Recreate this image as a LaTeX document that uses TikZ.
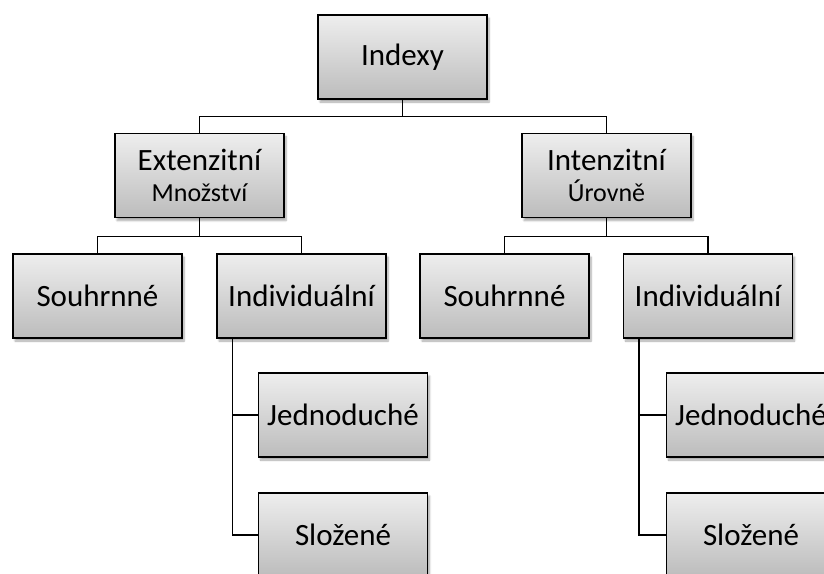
\documentclass[tikz,border=0pt]{standalone}
\usepackage{fontspec}
\setmainfont{Carlito}
\usetikzlibrary{calc,shadows.blur}
\definecolor{boxtop}{RGB}{238,238,238}
\definecolor{boxbot}{RGB}{188,188,188}
\tikzset{
  box/.style={rectangle, draw=black, line width=1.3pt, minimum width=169pt, minimum height=84pt,
    top color=boxtop, bottom color=boxbot, align=center, inner sep=0pt,
    font=\fontsize{31}{33}\selectfont,
    blur shadow={shadow xshift=2pt, shadow yshift=-3pt, shadow blur steps=6, shadow opacity=35}},
  conn/.style={line width=1.3pt, draw=black}
}
\newcommand{\subline}[1]{{\fontsize{26}{28}\selectfont #1}}
\begin{document}
\begin{tikzpicture}[x=1pt,y=1pt]
	%%%%% FRAME %%%%%
	\useasboundingbox (0,0) rectangle (824,-573);
	\def\rowone{-57}
	\def\rowtwo{-175.5}
	\def\rowthree{-296}
	\def\rowfour{-415}
	\def\rowfive{-535}
	\def\stem{16}

	%%%%% BOXES %%%%%
	\node[box] (indexy) at (402.5,\rowone) {Indexy};

	\node[box] (ext) at (199.5,\rowtwo) {Extenzitní\\[-2pt]\subline{Množství}};
	\node[box] (int) at (606.5,\rowtwo) {Intenzitní\\[-2pt]\subline{Úrovně}};

	\node[box] (souhrnL) at (97.5,\rowthree) {Souhrnné};
	\node[box] (indivL) at (301.5,\rowthree) {Individuální};
	\node[box] (souhrnR) at (504.5,\rowthree) {Souhrnné};
	\node[box] (indivR) at (708,\rowthree) {Individuální};

	\node[box] (jednoL) at (343,\rowfour) {Jednoduché};
	\node[box] (slozL) at (343,\rowfive) {Složené};
	\node[box] (jednoR) at (751,\rowfour) {Jednoduché};
	\node[box] (slozR) at (751,\rowfive) {Složené};

	%%%%% CONNECTORS %%%%%
	\draw[conn] (indexy.south) -- ++(0,-17) coordinate (busA);
	\draw[conn] (ext.north) |- (busA) -| (int.north);

	\draw[conn] (ext.south) -- ++(0,-18) coordinate (busL);
	\draw[conn] (souhrnL.north) |- (busL) -| (indivL.north);
	\draw[conn] (int.south) -- ++(0,-18) coordinate (busR);
	\draw[conn] (souhrnR.north) |- (busR) -| (indivR.north);

	\draw[conn] ($(indivL.south west)+(\stem,0)$) coordinate (stemL) |- (jednoL.west);
	\draw[conn] (stemL) |- (slozL.west);
	\draw[conn] ($(indivR.south west)+(\stem,0)$) coordinate (stemR) |- (jednoR.west);
	\draw[conn] (stemR) |- (slozR.west);
\end{tikzpicture}
\end{document}
